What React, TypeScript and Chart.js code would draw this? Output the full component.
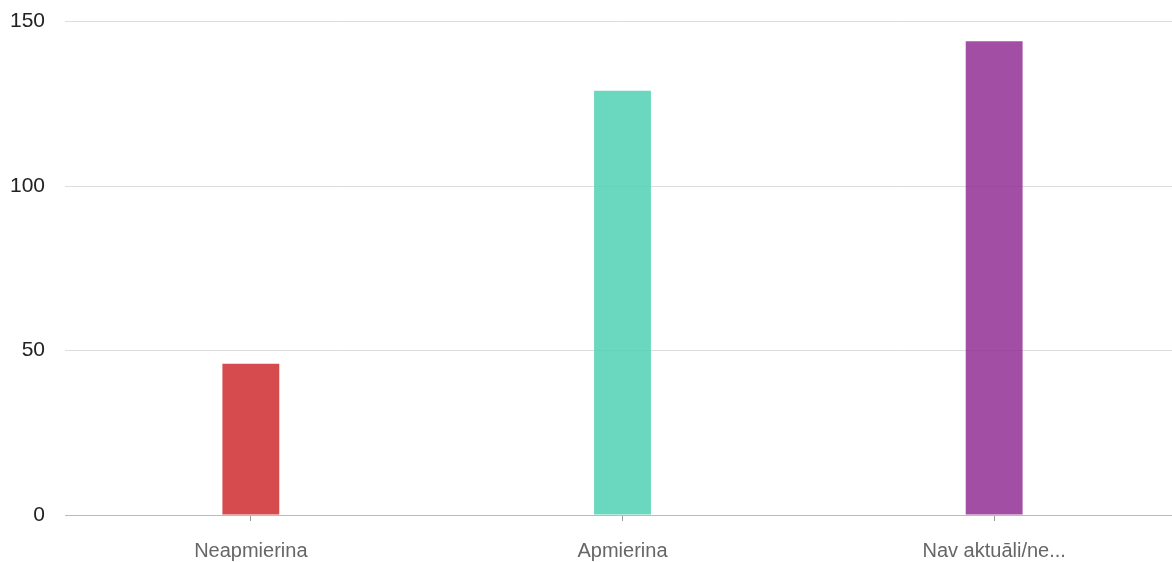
import React, { useEffect, useRef } from "react";
import { Chart, registerables } from "chart.js";

Chart.register(...registerables);

const categories = ["Neapmierina", "Apmierina", "Nav aktuāli/ne..."];
const values = [46, 129, 144];
const barColors = ["rgba(207,43,47,0.85)", "rgba(80,209,180,0.85)", "rgba(146,47,148,0.85)"];
const yTicks = [0, 50, 100, 150];

export default function App() {
  const ref = useRef<HTMLCanvasElement | null>(null);
  useEffect(() => {
    if (!ref.current) return;
    const chart = new Chart(ref.current, {
      type: "bar",
      data: {
        labels: categories,
        datasets: [
          {
            data: values,
            backgroundColor: barColors,
            borderWidth: 0,
            barPercentage: 0.153,
            categoryPercentage: 1,
          },
        ],
      },
      options: {
        animation: false,
        responsive: false,
        maintainAspectRatio: false,
        layout: { padding: { left: 10, right: 0, top: 1, bottom: 1 } },
        plugins: { legend: { display: false }, tooltip: { enabled: false } },
        scales: {
          x: {
            grid: {
              display: true,
              drawOnChartArea: false,
              drawTicks: true,
              tickLength: 6,
              color: "#999999",
              offset: false,
            },
            border: { display: true, color: "#bbbbbb", width: 1 },
            ticks: {
              color: "#666666",
              font: { family: "Liberation Sans", size: 20 },
              padding: 18,
              maxRotation: 0,
            },
          },
          y: {
            min: 0,
            max: 150,
            afterBuildTicks: (axis: any) => {
              axis.ticks = yTicks.map((v) => ({ value: v }));
            },
            afterFit: (axis: any) => {
              axis.width = 55;
            },
            grid: { color: "#dddddd", drawTicks: false },
            border: { display: false },
            ticks: {
              color: "#222222",
              font: { family: "Liberation Sans", size: 21 },
              padding: 20,
            },
          },
        },
      },
    });
    return () => chart.destroy();
  }, []);
  return (
    <div style={{ position: "fixed", left: 0, top: 0, width: 1172, height: 562, background: "#fff", overflow: "hidden" }}>
      <canvas
        ref={ref}
        width={1180}
        height={593}
        style={{ position: "absolute", left: 0, top: -11, width: 1180, height: 593 }}
      />
    </div>
  );
}
